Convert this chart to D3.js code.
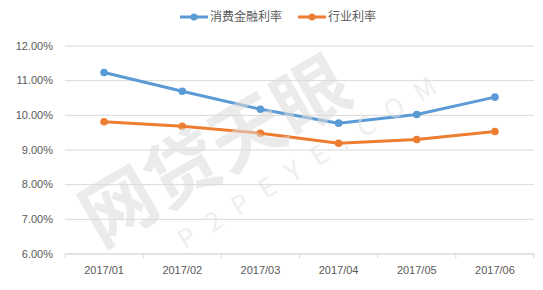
<html>
<head>
<meta charset="UTF-8"/>
<script src="https://d3js.org/d3.v7.min.js"></script>
<title>利率</title>
<style>
body{ margin:0; background:#fff; }
svg{ font-family: "Noto Sans CJK SC", "Noto Sans", sans-serif; }
.tick text{ fill:#595959; font-size:11px; }
</style>
</head>
<body>
<svg id='chart' width=543 height=290></svg>
<script>
'use strict';
var months = ['2017/01','2017/02','2017/03','2017/04','2017/05','2017/06'];
var consumer = [11.22, 10.68, 10.16, 9.76, 10.01, 10.51];
var industry = [9.80, 9.67, 9.47, 9.18, 9.29, 9.52];
var yTicks = [6, 7, 8, 9, 10, 11, 12];
var seriesNames = ['消费金融利率', '行业利率'];
var colors = ['#5b9bd5', '#ed7d31'];

var svg = d3.select('#chart');
var mLeft = 65, mRight = 534, mTop = 45.5, mBottom = 253.5;

var sx = d3.scaleBand().domain(months).range([mLeft, mRight]);
var sy = d3.scaleLinear().domain([6, 12]).range([mBottom, mTop]);

// grid + y labels
var yAxis = d3.axisLeft(sy)
    .tickValues(yTicks)
    .tickSize(-(mRight - mLeft))
    .tickPadding(12)
    .tickFormat(function(d){ return d.toFixed(2) + '%'; });
var gy = svg.append('g').attr('transform', 'translate(' + mLeft + ',0)').call(yAxis);
gy.select('.domain').remove();
gy.selectAll('.tick line').attr('stroke', '#d9d9d9');

// x axis
var xAxis = d3.axisBottom(sx).tickSize(0).tickPadding(11);
var gx = svg.append('g').attr('transform', 'translate(0,' + mBottom + ')').call(xAxis);
gx.select('.domain').attr('stroke', '#d9d9d9');
gx.selectAll('.tick text').attr('dy', '0.85em');
// band boundary ticks
var edges = months.map(function(m){ return sx(m); }).concat([mRight]);
gx.selectAll('.edge').data(edges).enter().append('line')
    .attr('x1', function(d){ return d; }).attr('x2', function(d){ return d; })
    .attr('y1', 0).attr('y2', 5)
    .attr('stroke', '#d9d9d9');

var line = d3.line()
    .x(function(d, i){ return sx(months[i]) + sx.bandwidth() / 2; })
    .y(function(d){ return sy(d); });

[industry, consumer].forEach(function(s, k){
    var c = colors[1 - k];
    svg.append('path').datum(s)
        .attr('d', line)
        .attr('fill', 'none')
        .attr('stroke', c)
        .attr('stroke-width', 3)
        .attr('stroke-linejoin', 'round');
    svg.selectAll('.pt' + k).data(s).enter().append('circle')
        .attr('cx', function(d, i){ return sx(months[i]) + sx.bandwidth() / 2; })
        .attr('cy', function(d){ return sy(d); })
        .attr('r', 3.8)
        .attr('fill', c);
});

// legend
var legendX = [180, 298];
var lg = svg.selectAll('.lg').data(seriesNames).enter().append('g')
    .attr('transform', function(d, i){ return 'translate(' + legendX[i] + ',17)'; });
lg.append('line').attr('x1', 0).attr('x2', 28).attr('y1', 0).attr('y2', 0)
    .attr('stroke', function(d, i){ return colors[i]; }).attr('stroke-width', 3);
lg.append('circle').attr('cx', 14).attr('r', 3.5)
    .attr('fill', function(d, i){ return colors[i]; });
lg.append('text').attr('x', 30).attr('dy', '0.35em')
    .attr('fill', '#595959').attr('font-size', '12px')
    .text(function(d){ return d; });

// watermark
var wm = svg.append('g').attr('opacity', 0.55).attr('pointer-events', 'none');
wm.append('text')
    .attr('transform', 'translate(100,248) rotate(-30)')
    .attr('font-size', '74px').attr('font-weight', 'bold')
    .attr('fill', '#dcdcdc')
    .text('网贷天眼');
wm.append('text')
    .attr('transform', 'translate(185,250) rotate(-32)')
    .attr('font-size', '26px')
    .attr('letter-spacing', '16px')
    .attr('fill', '#e2e2e2')
    .text('P2PEYE.COM');
</script>
</body>
</html>
